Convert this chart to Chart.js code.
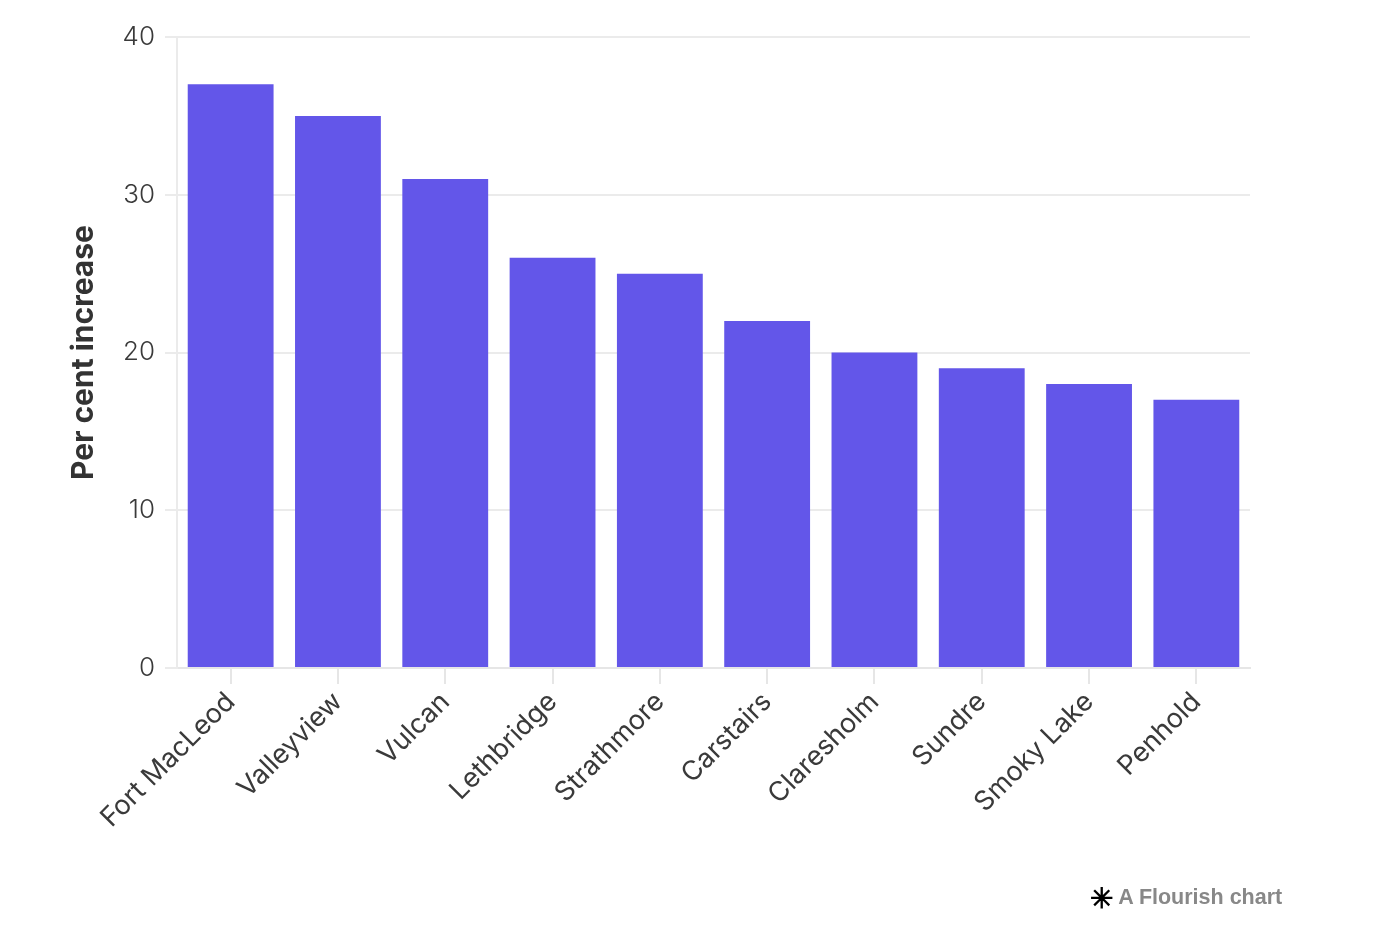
<!DOCTYPE html>
<html>
<head>
    <title>Per cent increase</title>
    <script src="https://cdn.jsdelivr.net/npm/chart.js"></script>
    <style>
        body { margin: 0; background: #fff; }
        #wrap { position: relative; width: 1400px; height: 938px; }
        #credit {
            position: absolute; left: 1090px; top: 882px;
            font: bold 21.5px "Liberation Sans", Arial, sans-serif; color: #888;
        }
        #credit span { color: #000; font-size: 28px; font-weight: bold; vertical-align: -4px; }
    </style>
</head>
<body>
<div id="wrap">
    <canvas id="chart" width="1400" height="938"></canvas>
    <div id="credit"><span>✳</span> A Flourish chart</div>
</div>
<script>
    // Chart data
    const towns = ['Fort MacLeod', 'Valleyview', 'Vulcan', 'Lethbridge', 'Strathmore',
                   'Carstairs', 'Claresholm', 'Sundre', 'Smoky Lake', 'Penhold'];
    const increase = [37, 35, 31, 26, 25, 22, 20, 19, 18, 17];
    const yTicks = [0, 10, 20, 30, 40];

    const font = "Inter, 'Open Sans', sans-serif";

    new Chart(document.getElementById('chart').getContext('2d'), {
        type: 'bar',
        data: {
            labels: towns,
            datasets: [{
                label: 'Per cent increase',
                data: increase,
                backgroundColor: '#6356e9',
                categoryPercentage: 1.0,
                barPercentage: 0.8
            }]
        },
        options: {
            responsive: false,
            animation: false,
            layout: { padding: { left: 66, right: 150, top: 37, bottom: 0 } },
            plugins: {
                legend: { display: false },
                tooltip: { enabled: false }
            },
            scales: {
                x: {
                    grid: {
                        offset: false,
                        drawOnChartArea: false,
                        drawTicks: true,
                        tickLength: 16,
                        color: '#e6e6e6',
                        lineWidth: 2
                    },
                    border: { display: true, color: '#e6e6e6', width: 2 },
                    ticks: {
                        minRotation: 45,
                        maxRotation: 45,
                        color: '#3a3a3a',
                        padding: 2,
                        font: { family: font, size: 27 }
                    },
                    afterFit: (scale) => { scale.height = 270; }
                },
                y: {
                    min: 0,
                    max: 40,
                    afterBuildTicks: (scale) => { scale.ticks = yTicks.map(v => ({ value: v })); },
                    grid: {
                        color: '#ebebeb',
                        lineWidth: 2,
                        tickLength: 12
                    },
                    border: { display: true, color: '#ebebeb', width: 2 },
                    ticks: {
                        color: '#3a3a3a',
                        padding: 10,
                        font: { family: font, size: 26, weight: 300 }
                    },
                    title: {
                        display: true,
                        text: 'Per cent increase',
                        color: '#333',
                        padding: { top: 0, bottom: 18 },
                        font: { family: font, size: 30, weight: 'bold' }
                    },
                    afterFit: (scale) => { scale.width = 177 - 66; }
                }
            }
        }
    });
</script>
</body>
</html>
